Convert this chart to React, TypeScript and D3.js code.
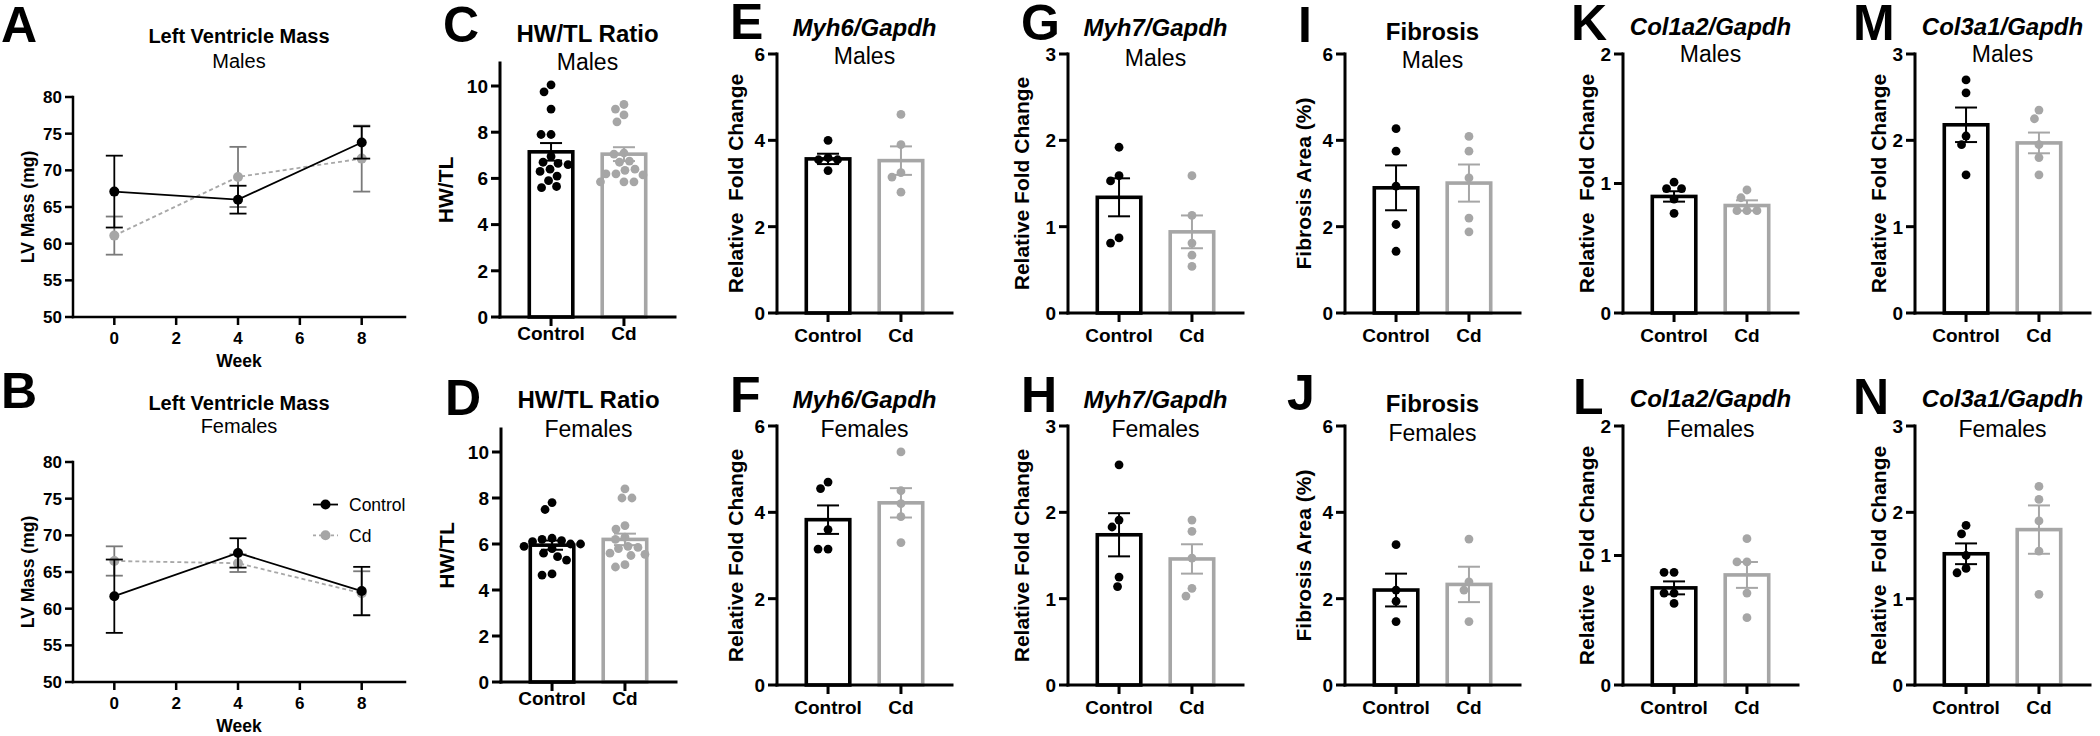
import React from 'react';
import * as d3 from 'd3';

const FONT = '"Liberation Sans", Arial, Helvetica, sans-serif';
const BLACK = '#000000';
const GREY = '#a6a6a6';
const GREY_LINE = '#a8a8a8';
const GREY_ERR = '#7a7a7a';

// ---------------- DATA ----------------
const groups = ['Control', 'Cd'];
const weeks = [0, 4, 8];
const weekTicks = [0, 2, 4, 6, 8];
const lvTicks = [50, 55, 60, 65, 70, 75, 80];

const lvMaleControlMean = [67.1, 66.0, 73.8];
const lvMaleControlSem = [4.9, 1.9, 2.2];
const lvMaleCdMean = [61.1, 69.1, 71.6];
const lvMaleCdSem = [2.6, 4.1, 4.5];

const lvFemaleControlMean = [61.7, 67.6, 62.4];
const lvFemaleControlSem = [5.0, 2.0, 3.3];
const lvFemaleCdMean = [66.5, 66.2, 62.1];
const lvFemaleCdSem = [2.0, 1.2, 3.0];

const hwtlTicks = [0, 2, 4, 6, 8, 10];
const hwtlMaleControl = [10.05, 9.75, 9.0, 7.9, 7.9, 6.95, 6.7, 6.65, 6.6, 6.4, 6.3, 6.1, 5.9, 5.65, 5.6];
const hwtlMaleCd = [9.2, 9.0, 8.75, 8.45, 7.1, 7.05, 6.75, 6.7, 6.4, 6.35, 6.2, 6.2, 6.15, 5.85, 5.85, 5.85];
const hwtlMaleMean = [7.15, 7.05];
const hwtlMaleSem = [0.38, 0.3];
const hwtlFemaleControl = [7.8, 7.5, 6.25, 6.2, 6.15, 6.1, 6.0, 6.0, 5.9, 5.8, 5.6, 5.45, 5.3, 4.7, 4.65];
const hwtlFemaleCd = [8.4, 8.0, 8.0, 6.8, 6.65, 6.3, 6.2, 5.9, 5.85, 5.8, 5.6, 5.55, 5.5, 5.1, 5.0];
const hwtlFemaleMean = [5.95, 6.2];
const hwtlFemaleSem = [0.2, 0.25];

const ticks0to6 = [0, 2, 4, 6];
const ticks0to3 = [0, 1, 2, 3];
const ticks0to2 = [0, 1, 2];

const myh6MaleControl = [4.0, 3.6, 3.55, 3.55, 3.3];
const myh6MaleCd = [4.6, 3.9, 3.25, 3.15, 2.8];
const myh6MaleMean = [3.57, 3.53];
const myh6MaleSem = [0.12, 0.33];
const myh6FemaleControl = [4.7, 4.55, 3.6, 3.15, 3.15];
const myh6FemaleCd = [5.4, 4.5, 4.2, 3.9, 3.3];
const myh6FemaleMean = [3.83, 4.22];
const myh6FemaleSem = [0.33, 0.34];

const myh7MaleControl = [1.92, 1.59, 1.53, 0.87, 0.81];
const myh7MaleCd = [1.59, 1.13, 0.81, 0.67, 0.54];
const myh7MaleMean = [1.34, 0.94];
const myh7MaleSem = [0.22, 0.19];
const myh7FemaleControl = [2.55, 1.91, 1.83, 1.25, 1.14];
const myh7FemaleCd = [1.91, 1.78, 1.47, 1.12, 1.03];
const myh7FemaleMean = [1.74, 1.46];
const myh7FemaleSem = [0.25, 0.17];

const fibMaleControl = [4.27, 3.75, 2.94, 2.05, 1.43];
const fibMaleCd = [4.09, 3.75, 3.13, 2.2, 1.88];
const fibMaleMean = [2.9, 3.01];
const fibMaleSem = [0.52, 0.43];
const fibFemaleControl = [3.25, 2.2, 1.94, 1.47];
const fibFemaleCd = [3.38, 2.39, 2.2, 1.47];
const fibFemaleMean = [2.2, 2.33];
const fibFemaleSem = [0.38, 0.41];

const col1MaleControl = [1.01, 0.96, 0.96, 0.88, 0.77];
const col1MaleCd = [0.95, 0.89, 0.79, 0.79, 0.79];
const col1MaleMean = [0.9, 0.83];
const col1MaleSem = [0.04, 0.04];
const col1FemaleControl = [0.87, 0.87, 0.71, 0.71, 0.63];
const col1FemaleCd = [1.13, 0.95, 0.95, 0.71, 0.52];
const col1FemaleMean = [0.75, 0.85];
const col1FemaleSem = [0.05, 0.1];

const col3MaleControl = [2.7, 2.55, 2.05, 1.95, 1.6];
const col3MaleCd = [2.35, 2.25, 1.95, 1.8, 1.6];
const col3MaleMean = [2.18, 1.97];
const col3MaleSem = [0.2, 0.12];
const col3FemaleControl = [1.85, 1.75, 1.5, 1.35, 1.3];
const col3FemaleCd = [2.3, 2.15, 1.9, 1.55, 1.05];
const col3FemaleMean = [1.52, 1.8];
const col3FemaleSem = [0.12, 0.28];

// ---------------- HELPERS ----------------
function swarm(values: number[], y: (v: number) => number, r: number): number[] {
  const order = values.map((v, i) => ({ v, i })).sort((a, b) => b.v - a.v);
  const placed: { x: number; y: number }[] = [];
  const out: number[] = new Array(values.length).fill(0);
  const d = 2 * r + 0.8;
  for (const o of order) {
    const py = y(o.v);
    let chosen = 0;
    for (let k = 0; k < 200; k++) {
      const mag = Math.ceil(k / 2) * 0.5;
      const cand = k % 2 === 1 ? -mag : mag;
      if (placed.every((p) => Math.hypot(p.x - cand, p.y - py) >= d)) {
        chosen = cand;
        break;
      }
    }
    placed.push({ x: chosen, y: py });
    out[o.i] = chosen;
  }
  return out;
}

type BarProps = {
  letter: string;
  letterX: number;
  letterY: number;
  title: string;
  italic?: boolean;
  sub: string;
  titleY: number;
  subY: number;
  yLabel: string;
  yLabelDx: number;
  axisX: number;
  y0: number;
  yMaxPix: number;
  yMax: number;
  axisTopVal: number;
  ticks: number[];
  control: number[];
  cd: number[];
  means: number[];
  sems: number[];
  xLabelDy: number;
};

function BarPanel(p: BarProps) {
  const len = 175;
  const x = d3.scalePoint<string>().domain(groups).range([p.axisX, p.axisX + len]).padding(0.7);
  const y = d3.scaleLinear().domain([0, p.yMax]).range([p.y0, p.yMaxPix]);
  const colors = [BLACK, GREY];
  const pts = [p.control, p.cd];
  const barHalf = 21.75;
  const r = 4.4;
  const cap = 11;
  const yTop = y(p.axisTopVal);
  const cxAxis = p.axisX + len / 2;
  return (
    <g>
      <text x={p.letterX} y={p.letterY} fontSize={50} fontWeight="bold">{p.letter}</text>
      <text x={cxAxis} y={p.titleY} textAnchor="middle" fontSize={24} fontWeight="bold" fontStyle={p.italic ? 'italic' : 'normal'}>{p.title}</text>
      <text x={cxAxis} y={p.subY} textAnchor="middle" fontSize={23}>{p.sub}</text>
      {groups.map((g, i) => {
        const cx = x(g) as number;
        const m = p.means[i];
        const s = p.sems[i];
        const pos = swarm(pts[i], y, r);
        return (
          <g key={g}>
            <rect x={cx - barHalf} y={y(m)} width={2 * barHalf} height={y(0) - y(m)} fill="white" stroke={colors[i]} strokeWidth={3.6} />
            {pts[i].map((v, j) => (
              <circle key={j} cx={cx + pos[j]} cy={y(v)} r={r} fill={colors[i]} />
            ))}
            <line x1={cx} x2={cx} y1={y(m - s)} y2={y(m + s)} stroke={colors[i]} strokeWidth={2} />
            <line x1={cx - cap} x2={cx + cap} y1={y(m + s)} y2={y(m + s)} stroke={colors[i]} strokeWidth={2} />
            <line x1={cx - cap} x2={cx + cap} y1={y(m - s)} y2={y(m - s)} stroke={colors[i]} strokeWidth={2} />
          </g>
        );
      })}
      <line x1={p.axisX} x2={p.axisX} y1={p.y0} y2={yTop} stroke={BLACK} strokeWidth={3} strokeLinecap="square" />
      <line x1={p.axisX} x2={p.axisX + len} y1={p.y0} y2={p.y0} stroke={BLACK} strokeWidth={3} strokeLinecap="square" />
      {p.ticks.map((t) => (
        <g key={t}>
          <line x1={p.axisX - 9} x2={p.axisX} y1={y(t)} y2={y(t)} stroke={BLACK} strokeWidth={3} />
          <text x={p.axisX - 12} y={y(t)} dy="0.36em" textAnchor="end" fontSize={19} fontWeight="bold">{t}</text>
        </g>
      ))}
      {groups.map((g) => (
        <g key={g}>
          <line x1={x(g)} x2={x(g)} y1={p.y0} y2={p.y0 + 9} stroke={BLACK} strokeWidth={3} />
          <text x={x(g)} y={p.y0 + p.xLabelDy} textAnchor="middle" fontSize={19} fontWeight="bold">{g}</text>
        </g>
      ))}
      <text
        transform={`translate(${p.axisX + p.yLabelDx},${(p.y0 + yTop) / 2}) rotate(-90)`}
        textAnchor="middle"
        dy="0.36em"
        fontSize={21}
        fontWeight="bold"
        style={{ whiteSpace: 'pre' }}
      >
        {p.yLabel}
      </text>
    </g>
  );
}

type LineProps = {
  letter: string;
  letterY: number;
  sub: string;
  titleY: number;
  subY: number;
  yTopPix: number;
  y0: number;
  ctrlMean: number[];
  ctrlSem: number[];
  cdMean: number[];
  cdSem: number[];
  legend?: boolean;
};

function LinePanel(p: LineProps) {
  const axisX = 73;
  const axisEnd = 405;
  const x = d3.scaleLinear().domain([-1.336, 9.4]).range([axisX, axisEnd]);
  const y = d3.scaleLinear().domain([50, 80]).range([p.y0, p.yTopPix]);
  const line = d3
    .line<number>()
    .x((_, i) => x(weeks[i]))
    .y((d) => y(d));
  const cap = 8.5;
  const series = [
    { mean: p.cdMean, sem: p.cdSem, color: GREY, lineColor: GREY_LINE, err: GREY_ERR, dash: '4,3' },
    { mean: p.ctrlMean, sem: p.ctrlSem, color: BLACK, lineColor: BLACK, err: BLACK, dash: undefined as string | undefined },
  ];
  const cx = (axisX + axisEnd) / 2;
  return (
    <g>
      <text x={1} y={p.letterY} fontSize={50} fontWeight="bold">{p.letter}</text>
      <text x={cx} y={p.titleY} textAnchor="middle" fontSize={20} fontWeight="bold">Left Ventricle Mass</text>
      <text x={cx} y={p.subY} textAnchor="middle" fontSize={20}>{p.sub}</text>
      {series.map((s, si) => (
        <g key={si}>
          {s.mean.map((m, i) => (
            <g key={i}>
              <line x1={x(weeks[i])} x2={x(weeks[i])} y1={y(m - s.sem[i])} y2={y(m + s.sem[i])} stroke={s.err} strokeWidth={1.8} />
              <line x1={x(weeks[i]) - cap} x2={x(weeks[i]) + cap} y1={y(m - s.sem[i])} y2={y(m - s.sem[i])} stroke={s.err} strokeWidth={1.8} />
              <line x1={x(weeks[i]) - cap} x2={x(weeks[i]) + cap} y1={y(m + s.sem[i])} y2={y(m + s.sem[i])} stroke={s.err} strokeWidth={1.8} />
            </g>
          ))}
          <path d={line(s.mean) || ''} fill="none" stroke={s.lineColor} strokeWidth={1.8} strokeDasharray={s.dash} />
          {s.mean.map((m, i) => (
            <circle key={i} cx={x(weeks[i])} cy={y(m)} r={5} fill={s.color} />
          ))}
        </g>
      ))}
      <line x1={axisX} x2={axisX} y1={p.y0} y2={p.yTopPix} stroke={BLACK} strokeWidth={2.5} strokeLinecap="square" />
      <line x1={axisX} x2={axisEnd} y1={p.y0} y2={p.y0} stroke={BLACK} strokeWidth={2.5} strokeLinecap="square" />
      {lvTicks.map((t) => (
        <g key={t}>
          <line x1={axisX - 8} x2={axisX} y1={y(t)} y2={y(t)} stroke={BLACK} strokeWidth={2.5} />
          <text x={axisX - 11} y={y(t)} dy="0.36em" textAnchor="end" fontSize={17} fontWeight="bold">{t}</text>
        </g>
      ))}
      {weekTicks.map((t) => (
        <g key={t}>
          <line x1={x(t)} x2={x(t)} y1={p.y0} y2={p.y0 + 8} stroke={BLACK} strokeWidth={2.5} />
          <text x={x(t)} y={p.y0 + 27} textAnchor="middle" fontSize={17} fontWeight="bold">{t}</text>
        </g>
      ))}
      <text x={cx} y={p.y0 + 50} textAnchor="middle" fontSize={17.5} fontWeight="bold">Week</text>
      <text transform={`translate(28,${(p.y0 + p.yTopPix) / 2}) rotate(-90)`} textAnchor="middle" dy="0.36em" fontSize={17.5} fontWeight="bold">
        LV Mass (mg)
      </text>
      {p.legend && (
        <g>
          {[
            { label: 'Control', color: BLACK, lc: BLACK, dash: undefined as string | undefined, yy: y(74.2) },
            { label: 'Cd', color: GREY, lc: GREY_LINE, dash: '3,3', yy: y(70.0) },
          ].map((l) => (
            <g key={l.label}>
              <line x1={313} x2={338} y1={l.yy} y2={l.yy} stroke={l.lc} strokeWidth={1.8} strokeDasharray={l.dash} />
              <circle cx={325.5} cy={l.yy} r={5} fill={l.color} />
              <text x={349} y={l.yy} dy="0.36em" fontSize={17.5}>{l.label}</text>
            </g>
          ))}
        </g>
      )}
    </g>
  );
}

export default function App() {
  const top = { y0: 313, yMaxPix: 54 };
  const bot = { y0: 685, yMaxPix: 426 };
  return (
    <svg
      width={2100}
      height={736}
      viewBox="0 0 2100 736"
      style={{ position: 'absolute', left: 0, top: 0, background: 'white', fontFamily: FONT }}
      fontFamily={FONT}
    >
      <rect width={2100} height={736} fill="white" />
      <LinePanel letter="A" letterY={42} sub="Males" titleY={43} subY={68} yTopPix={97} y0={317}
        ctrlMean={lvMaleControlMean} ctrlSem={lvMaleControlSem} cdMean={lvMaleCdMean} cdSem={lvMaleCdSem} />
      <LinePanel letter="B" letterY={408} sub="Females" titleY={410} subY={433} yTopPix={462} y0={682}
        ctrlMean={lvFemaleControlMean} ctrlSem={lvFemaleControlSem} cdMean={lvFemaleCdMean} cdSem={lvFemaleCdSem} legend />

      <BarPanel letter="C" letterX={443} letterY={42} title="HW/TL Ratio" sub="Males" titleY={42} subY={70}
        yLabel="HW/TL" yLabelDx={-55} axisX={500} y0={317} yMaxPix={86} yMax={10} axisTopVal={11} ticks={hwtlTicks}
        control={hwtlMaleControl} cd={hwtlMaleCd} means={hwtlMaleMean} sems={hwtlMaleSem} xLabelDy={23} />
      <BarPanel letter="D" letterX={445} letterY={415} title="HW/TL Ratio" sub="Females" titleY={408} subY={437}
        yLabel="HW/TL" yLabelDx={-55} axisX={501} y0={682} yMaxPix={452} yMax={10} axisTopVal={11} ticks={hwtlTicks}
        control={hwtlFemaleControl} cd={hwtlFemaleCd} means={hwtlFemaleMean} sems={hwtlFemaleSem} xLabelDy={23} />

      <BarPanel letter="E" letterX={730} letterY={39} title="Myh6/Gapdh" italic sub="Males" titleY={36} subY={64}
        yLabel="Relative  Fold Change" yLabelDx={-42} axisX={777} {...top} yMax={6} axisTopVal={6} ticks={ticks0to6}
        control={myh6MaleControl} cd={myh6MaleCd} means={myh6MaleMean} sems={myh6MaleSem} xLabelDy={29} />
      <BarPanel letter="F" letterX={730} letterY={412} title="Myh6/Gapdh" italic sub="Females" titleY={408} subY={437}
        yLabel="Relative Fold Change" yLabelDx={-42} axisX={777} {...bot} yMax={6} axisTopVal={6} ticks={ticks0to6}
        control={myh6FemaleControl} cd={myh6FemaleCd} means={myh6FemaleMean} sems={myh6FemaleSem} xLabelDy={29} />

      <BarPanel letter="G" letterX={1021} letterY={40} title="Myh7/Gapdh" italic sub="Males" titleY={36} subY={66}
        yLabel="Relative Fold Change" yLabelDx={-47} axisX={1068} {...top} yMax={3} axisTopVal={3} ticks={ticks0to3}
        control={myh7MaleControl} cd={myh7MaleCd} means={myh7MaleMean} sems={myh7MaleSem} xLabelDy={29} />
      <BarPanel letter="H" letterX={1021} letterY={412} title="Myh7/Gapdh" italic sub="Females" titleY={408} subY={437}
        yLabel="Relative Fold Change" yLabelDx={-47} axisX={1068} {...bot} yMax={3} axisTopVal={3} ticks={ticks0to3}
        control={myh7FemaleControl} cd={myh7FemaleCd} means={myh7FemaleMean} sems={myh7FemaleSem} xLabelDy={29} />

      <BarPanel letter="I" letterX={1298} letterY={42} title="Fibrosis" sub="Males" titleY={40} subY={68}
        yLabel="Fibrosis Area (%)" yLabelDx={-42} axisX={1345} {...top} yMax={6} axisTopVal={6} ticks={ticks0to6}
        control={fibMaleControl} cd={fibMaleCd} means={fibMaleMean} sems={fibMaleSem} xLabelDy={29} />
      <BarPanel letter="J" letterX={1287} letterY={410} title="Fibrosis" sub="Females" titleY={412} subY={441}
        yLabel="Fibrosis Area (%)" yLabelDx={-42} axisX={1345} {...bot} yMax={6} axisTopVal={6} ticks={ticks0to6}
        control={fibFemaleControl} cd={fibFemaleCd} means={fibFemaleMean} sems={fibFemaleSem} xLabelDy={29} />

      <BarPanel letter="K" letterX={1571} letterY={40} title="Col1a2/Gapdh" italic sub="Males" titleY={35} subY={62}
        yLabel="Relative  Fold Change" yLabelDx={-37} axisX={1623} {...top} yMax={2} axisTopVal={2} ticks={ticks0to2}
        control={col1MaleControl} cd={col1MaleCd} means={col1MaleMean} sems={col1MaleSem} xLabelDy={29} />
      <BarPanel letter="L" letterX={1573} letterY={414} title="Col1a2/Gapdh" italic sub="Females" titleY={407} subY={437}
        yLabel="Relative  Fold Change" yLabelDx={-37} axisX={1623} {...bot} yMax={2} axisTopVal={2} ticks={ticks0to2}
        control={col1FemaleControl} cd={col1FemaleCd} means={col1FemaleMean} sems={col1FemaleSem} xLabelDy={29} />

      <BarPanel letter="M" letterX={1853} letterY={40} title="Col3a1/Gapdh" italic sub="Males" titleY={35} subY={62}
        yLabel="Relative  Fold Change" yLabelDx={-37} axisX={1915} {...top} yMax={3} axisTopVal={3} ticks={ticks0to3}
        control={col3MaleControl} cd={col3MaleCd} means={col3MaleMean} sems={col3MaleSem} xLabelDy={29} />
      <BarPanel letter="N" letterX={1853} letterY={414} title="Col3a1/Gapdh" italic sub="Females" titleY={407} subY={437}
        yLabel="Relative  Fold Change" yLabelDx={-37} axisX={1915} {...bot} yMax={3} axisTopVal={3} ticks={ticks0to3}
        control={col3FemaleControl} cd={col3FemaleCd} means={col3FemaleMean} sems={col3FemaleSem} xLabelDy={29} />
    </svg>
  );
}
